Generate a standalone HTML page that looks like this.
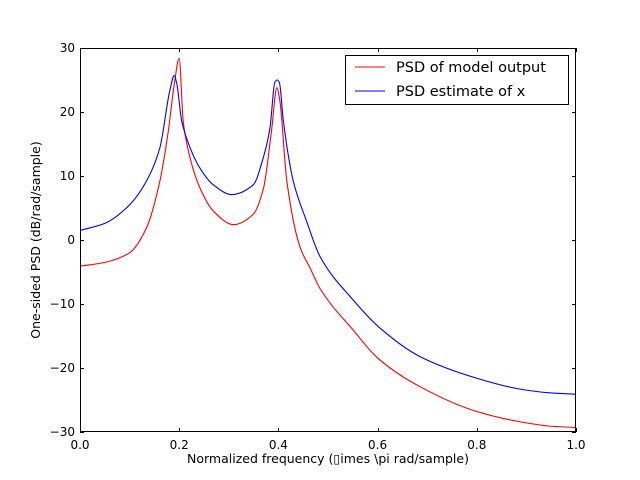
<!DOCTYPE html>
<html><head><meta charset="utf-8"><style>
body{margin:0;background:#fff;}
svg{display:block;font-family:"DejaVu Sans","Liberation Sans",sans-serif;}
</style></head><body>
<svg id="chart" width="640" height="480" viewBox="0 0 640 480" xmlns="http://www.w3.org/2000/svg">
<rect x="0" y="0" width="640" height="480" fill="#fff"/>
<g id="marks"></g>
<g id="axes"></g>
<text x="328" y="463" font-size="12.5" text-anchor="middle">Normalized frequency (&#x25AF;imes \pi rad/sample)</text>
<text transform="translate(40,240) rotate(-90)" font-size="12.5" text-anchor="middle">One-sided PSD (dB/rad/sample)</text>
<g>
<rect x="345.5" y="55.5" width="223" height="49" fill="#fff" stroke="#000" stroke-width="1"/>
<line x1="355" y1="67" x2="385" y2="67" stroke="#f00" stroke-width="1"/>
<text x="396" y="72" font-size="14.5">PSD of model output</text>
<line x1="355" y1="91" x2="385" y2="91" stroke="#00f" stroke-width="1"/>
<text x="396" y="96" font-size="14.5">PSD estimate of x</text>
</g>
</svg>
<script>
const modelFreqs=[0,0.05,0.1,0.134,0.161,0.178,0.19,0.2,0.208,0.222,0.242,0.269,0.31,0.349,0.37,0.386,0.397,0.403,0.417,0.444,0.464,0.484,0.551,0.601,0.685,0.8,0.887,0.95,1.0];
const modelPsd=[-4.1,-3.5,-2.0,1.9,9.2,17,24.3,28.4,18.6,12.8,8.1,4.5,2.4,4,8.1,17,23.8,21.7,9.2,-1.2,-4.4,-7.6,-14.1,-18.5,-22.9,-26.8,-28.4,-29.1,-29.3];
const estFreqs=[0,0.05,0.1,0.134,0.161,0.181,0.19,0.195,0.205,0.222,0.242,0.269,0.306,0.349,0.37,0.383,0.393,0.398,0.402,0.41,0.43,0.457,0.484,0.551,0.601,0.685,0.8,0.887,0.95,1.0];
const estimatePsd=[1.5,2.6,5.5,9.2,14.4,23.3,25.7,24.5,18.6,14.4,11.2,8.6,7.1,8.6,13,17.5,24.7,25,24.6,18.6,9.2,2.9,-2.6,-9.4,-13.5,-18.2,-21.6,-23.3,-23.9,-24.1];
const xTicks=[0,0.2,0.4,0.6,0.8,1.0];
const xTickLabels=["0.0","0.2","0.4","0.6","0.8","1.0"];
const yTicks=[-30,-20,-10,0,10,20,30];
const yTickLabels=["\u221230","\u221220","\u221210","0","10","20","30"];
const L=80,R=576,T=48,B=432;
const sx=v=>L+(v-0)/(1-0)*(R-L);
const sy=v=>B-(v+30)/60*(B-T);
const NS="http://www.w3.org/2000/svg";
const marks=document.getElementById('marks'),axes=document.getElementById('axes');
function mk(tag,attrs,parent){const e=document.createElementNS(NS,tag);for(const k in attrs)e.setAttribute(k,attrs[k]);parent.appendChild(e);return e;}
// monotone cubic (Fritsch-Carlson) rendering through the read points
function monotonePath(xs,ys){
  const n=xs.length,d=[],m=new Array(n);
  for(let i=0;i<n-1;i++)d.push((ys[i+1]-ys[i])/(xs[i+1]-xs[i]));
  m[0]=d[0];m[n-1]=d[n-2];
  for(let i=1;i<n-1;i++){
    if(d[i-1]*d[i]<=0)m[i]=0;
    else{const h0=xs[i]-xs[i-1],h1=xs[i+1]-xs[i];const w1=2*h1+h0,w2=h1+2*h0;m[i]=(w1+w2)/(w1/d[i-1]+w2/d[i]);}
  }
  let s='M'+sx(xs[0]).toFixed(2)+','+sy(ys[0]).toFixed(2);
  for(let i=0;i<n-1;i++){
    const h=xs[i+1]-xs[i];
    s+=' C'+sx(xs[i]+h/3).toFixed(2)+','+sy(ys[i]+m[i]*h/3).toFixed(2)+' '+sx(xs[i+1]-h/3).toFixed(2)+','+sy(ys[i+1]-m[i+1]*h/3).toFixed(2)+' '+sx(xs[i+1]).toFixed(2)+','+sy(ys[i+1]).toFixed(2);
  }
  return s;
}
function line(fs,vals,color,name){
  const p=mk('path',{d:monotonePath(fs,vals),fill:'none',stroke:color,'stroke-width':1.1},marks);
  
  
}
line(modelFreqs,modelPsd,'#f00','model-psd-line');
line(estFreqs,estimatePsd,'#00f','estimate-psd-line');
const frame=mk('rect',{x:L+.5,y:T+.5,width:R-L-1,height:B-T-1,fill:'none',stroke:'#000','stroke-width':1},axes);


xTicks.forEach((v,i)=>{
  const x=Math.round(sx(v))+.5;
  mk('line',{x1:x,y1:B,x2:x,y2:B-4,stroke:'#000'},axes);
  mk('line',{x1:x,y1:T,x2:x,y2:T+4,stroke:'#000'},axes);
  const t=mk('text',{x:sx(v),y:B+17,'font-size':12,'text-anchor':'middle'},axes);
  t.textContent=xTickLabels[i];
  
  
});
yTicks.forEach((v,i)=>{
  const y=Math.round(sy(v))+.5;
  mk('line',{x1:L,y1:y,x2:L+4,y2:y,stroke:'#000'},axes);
  mk('line',{x1:R,y1:y,x2:R-4,y2:y,stroke:'#000'},axes);
  const t=mk('text',{x:L-5,y:sy(v)+4,'font-size':12,'text-anchor':'end'},axes);
  t.textContent=yTickLabels[i];
  
  
});
</script>
</body></html>
